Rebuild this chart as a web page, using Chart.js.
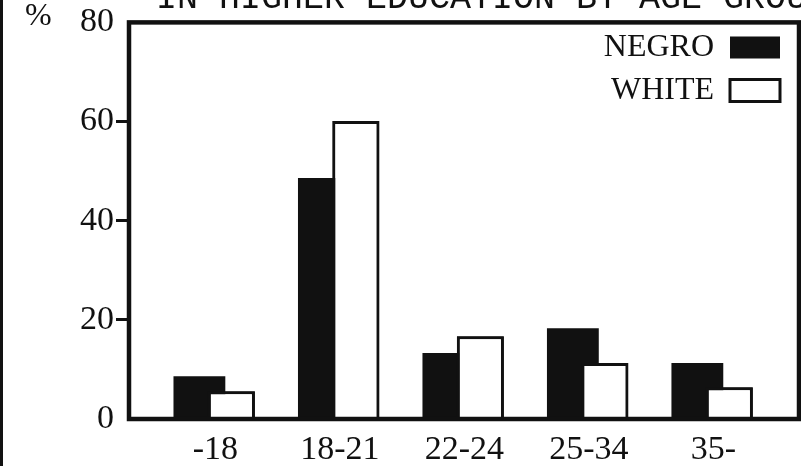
<!DOCTYPE html>
<html>
<head>
<meta charset="utf-8">
<script src="https://cdn.jsdelivr.net/npm/chart.js@4.4.1/dist/chart.umd.min.js"></script>
<style>
  html, body { margin: 0; padding: 0; background: #fff; }
  .cmp-chart { position: relative; width: 801px; height: 466px; box-shadow: inset 3px 0 0 #111; }
</style>
</head>
<body>
<div class="cmp-chart"><canvas id="enrollment"></canvas></div>
<script>
const ageGroups = ["-18", "18-21", "22-24", "25-34", "35-"];
const negroValues = [8.6, 48.6, 13.3, 18.3, 11.3];
const whiteValues = [5.6, 60.1, 16.7, 11.3, 6.4];
const percentTicks = [0, 20, 40, 60, 80];
const seriesNames = ["NEGRO", "WHITE"];
const chartTitle = "IN HIGHER EDUCATION BY AGE GROUP";

const INK = "#111";
const SERIF = "'Liberation Serif', 'Times New Roman', serif";

const toPoints = (values) => values.map((v, i) => ({ x: i, y: v }));

const framePlugin = {
  id: "frame",
  afterLayout(chart) {
    // the legend sits inside the frame, top right
    const legend = chart.legend;
    const area = chart.chartArea;
    legend.right = area.right - 8;
    legend.left = legend.right - legend.width;
    legend.top = area.top - 2;
    legend.bottom = legend.top + legend.height;
  },
  afterDatasetsDraw(chart) {
    // white bars are drawn over the black ones
    chart.getDatasetMeta(1).controller.draw();
    const { ctx, chartArea: a } = chart;
    ctx.save();
    ctx.strokeStyle = INK;
    ctx.lineWidth = 4.5;
    ctx.strokeRect(a.left, a.top, a.right - a.left, a.bottom - a.top);
    ctx.restore();
  },
  afterDraw(chart) {
    const { ctx } = chart;
    ctx.save();
    ctx.fillStyle = INK;
    ctx.textBaseline = "alphabetic";
    ctx.font = "35px 'Liberation Mono', monospace";
    ctx.fillText(chartTitle, 156, 8);
    ctx.font = "32px " + SERIF;
    ctx.textBaseline = "middle";
    ctx.fillText("%", 25, 17);
    ctx.restore();
  },
};

const hiddenEnds = (c) =>
  c.tick && (c.tick.value === 0 || c.tick.value === 80) ? "rgba(0,0,0,0)" : INK;

new Chart(document.getElementById("enrollment"), {
  type: "bar",
  data: {
    datasets: [
      {
        label: seriesNames[0],
        data: toPoints(negroValues),
        backgroundColor: INK,
        borderColor: INK,
        borderWidth: 0,
        barPercentage: 1.62,
      },
      {
        label: seriesNames[1],
        data: toPoints(whiteValues),
        backgroundColor: "#fff",
        borderColor: INK,
        borderWidth: 3,
        barPercentage: 1.47,
      },
    ],
  },
  options: {
    responsive: true,
    maintainAspectRatio: false,
    animation: false,
    categoryPercentage: 0.514,
    layout: { padding: { top: 17, right: 2 } },
    plugins: {
      title: { display: false },
      tooltip: { enabled: false },
      legend: {
        position: "chartArea",
        align: "start",
        rtl: true,
        labels: {
          color: INK,
          font: { family: SERIF, size: 32, lineHeight: 1 },
          boxWidth: 50,
          boxHeight: 22,
          padding: 11,
        },
      },
    },
    scales: {
      x: {
        type: "linear",
        offset: false,
        min: -0.694,
        max: 4.688,
        afterBuildTicks: (s) => {
          s.ticks = ageGroups.map((_, i) => ({ value: i }));
        },
        afterFit: (s) => {
          s.height = 47;
        },
        grid: { display: false },
        border: { display: false },
        ticks: {
          color: INK,
          font: { family: SERIF, size: 34 },
          padding: 3,
          callback: (v) => ageGroups[v],
        },
      },
      y: {
        min: 0,
        max: 80,
        afterBuildTicks: (s) => {
          s.ticks = percentTicks.map((v) => ({ value: v }));
        },
        afterFit: (s) => {
          s.width = 129;
        },
        grid: {
          drawOnChartArea: false,
          tickLength: 13,
          tickWidth: 3,
          tickColor: hiddenEnds,
        },
        border: { display: false },
        ticks: {
          color: INK,
          font: { family: SERIF, size: 34 },
          padding: 2,
        },
      },
    },
  },
  plugins: [framePlugin],
});
</script>
</body>
</html>
